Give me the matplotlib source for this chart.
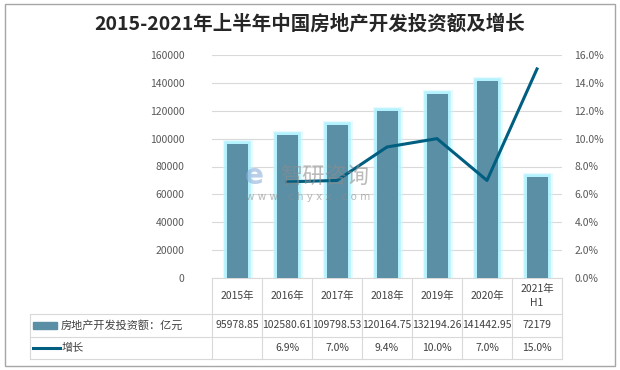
import matplotlib
matplotlib.use("Agg")
import matplotlib.pyplot as plt
import matplotlib.patheffects as pe
from matplotlib.lines import Line2D
from matplotlib.patches import Rectangle

plt.rcParams['font.family'] = ['Noto Sans CJK SC', 'DejaVu Sans']

# data
years = ["2015年", "2016年", "2017年", "2018年", "2019年", "2020年", "2021年\nH1"]
invest = [95978.85, 102580.61, 109798.53, 120164.75, 132194.26, 141442.95, 72179]
invest_txt = ["95978.85", "102580.61", "109798.53", "120164.75", "132194.26", "141442.95", "72179"]
growth = [None, 6.9, 7.0, 9.4, 10.0, 7.0, 15.0]
growth_txt = ["", "6.9%", "7.0%", "9.4%", "10.0%", "7.0%", "15.0%"]
series_names = ["房地产开发投资额：亿元", "增长"]
title = "2015-2021年上半年中国房地产开发投资额及增长"

bar_col = "#5b8fa6"
line_col = "#005f80"
grid_col = "#d9d9d9"
txt_col = "#404040"
tick_col = "#595959"

W, H = 620, 370
fig = plt.figure(figsize=(6.2, 3.7), dpi=100)

def fx(px):
    return px / W

def fy(py):
    return 1 - py / H

# outer frame
fig.patches.append(Rectangle((fx(5), fy(366)), fx(610) - fx(0), fy(4) - fy(366),
                             transform=fig.transFigure, fill=False,
                             edgecolor="#a6a6a6", linewidth=1))

ax_l, ax_r, ax_t, ax_b = 212, 562, 55, 278
ax = fig.add_axes([fx(ax_l), fy(ax_b), fx(ax_r) - fx(ax_l), fy(ax_t) - fy(ax_b)])
ax2 = ax.twinx()

x = list(range(len(years)))
bars = ax.bar(x, invest, width=0.42, color=bar_col, zorder=3)
glow = [pe.Stroke(linewidth=6.5, foreground="#d0f8ff", alpha=0.5),
        pe.Stroke(linewidth=4, foreground="#a8f0ff", alpha=0.8),
        pe.Normal()]
for b in bars:
    b.set_path_effects(glow)

gx = [i for i, g in zip(x, growth) if g is not None]
gy = [g for g in growth if g is not None]
ax2.plot(gx, gy, color=line_col, linewidth=2.2, zorder=4)

ax.set_xlim(-0.5, len(years) - 0.5)
ax.set_ylim(0, 160000)
ax.set_yticks(range(0, 160001, 20000))
ax2.set_ylim(0, 16)
ax2.set_yticks(range(0, 17, 2))
ax2.set_yticklabels([f"{v:.1f}%" for v in range(0, 17, 2)])
ax.yaxis.grid(True, color=grid_col, linewidth=0.8, zorder=0)
ax.set_axisbelow(True)
ax.set_xticks([])
for a in (ax, ax2):
    for s in a.spines.values():
        s.set_visible(False)
    a.tick_params(axis="y", length=0, labelsize=7.5, labelcolor=tick_col)
ax.tick_params(axis="y", pad=20)
ax2.tick_params(axis="y", pad=9)
ax.spines["bottom"].set_visible(True)
ax.spines["bottom"].set_color(grid_col)

# watermark, drawn on the top axes so it sits over the bars
ft = fig.transFigure
ax2.text(fx(325), fy(177), "智研咨询", fontsize=16, color="#8c8c8c", alpha=0.6,
         ha="center", va="center", zorder=10, transform=ft)
ax2.text(fx(308), fy(197), "w w w . c h y x x . c o m", fontsize=7.5, color="#8c8c8c",
         alpha=0.6, ha="center", va="center", family="DejaVu Sans", zorder=10, transform=ft)
ax2.text(fx(254), fy(176), "e", fontsize=20, color="#8fb0da", alpha=0.6,
         ha="center", va="center", fontweight="bold", family="DejaVu Sans",
         zorder=10, transform=ft)

# title
fig.text(0.5, fy(24), title, fontsize=14, fontweight="bold", color="#262626",
         ha="center", va="center")

# data table
col_w = (ax_r - ax_l) / len(years)
row_lines = [ax_b, 314, 337, 359]
leg_l = 30

def hline(y0, xa, xb):
    fig.add_artist(Line2D([fx(xa), fx(xb)], [fy(y0), fy(y0)], color=grid_col,
                          linewidth=0.8, transform=fig.transFigure))

def vline(xp, ya, yb):
    fig.add_artist(Line2D([fx(xp), fx(xp)], [fy(ya), fy(yb)], color=grid_col,
                          linewidth=0.8, transform=fig.transFigure))

for yl in row_lines[1:]:
    hline(yl, leg_l, ax_r)
for i in range(len(years) + 1):
    vline(ax_l + i * col_w, ax_b, row_lines[-1])
vline(leg_l, row_lines[1], row_lines[-1])

for i, (yr, v, g) in enumerate(zip(years, invest_txt, growth_txt)):
    cx = ax_l + (i + 0.5) * col_w
    fig.text(fx(cx), fy((row_lines[0] + row_lines[1]) / 2), yr, fontsize=7.5,
             color=txt_col, ha="center", va="center", linespacing=1.5)
    fig.text(fx(cx), fy((row_lines[1] + row_lines[2]) / 2), v, fontsize=7.5,
             color=txt_col, ha="center", va="center")
    fig.text(fx(cx), fy((row_lines[2] + row_lines[3]) / 2), g, fontsize=7.5,
             color=txt_col, ha="center", va="center")

# legend keys in the table
ry1 = (row_lines[1] + row_lines[2]) / 2
ry2 = (row_lines[2] + row_lines[3]) / 2
fig.patches.append(Rectangle((fx(33), fy(ry1 + 3.5)), fx(24), fy(0) - fy(7),
                             transform=fig.transFigure, color=bar_col))
fig.add_artist(Line2D([fx(33), fx(60)], [fy(ry2), fy(ry2)], color=line_col,
                      linewidth=2.2, transform=fig.transFigure))
fig.text(fx(61), fy(ry1), series_names[0], fontsize=8, color=txt_col, ha="left", va="center")
fig.text(fx(62), fy(ry2), series_names[1], fontsize=8, color=txt_col, ha="left", va="center")

fig.savefig("out.png", dpi=100)
